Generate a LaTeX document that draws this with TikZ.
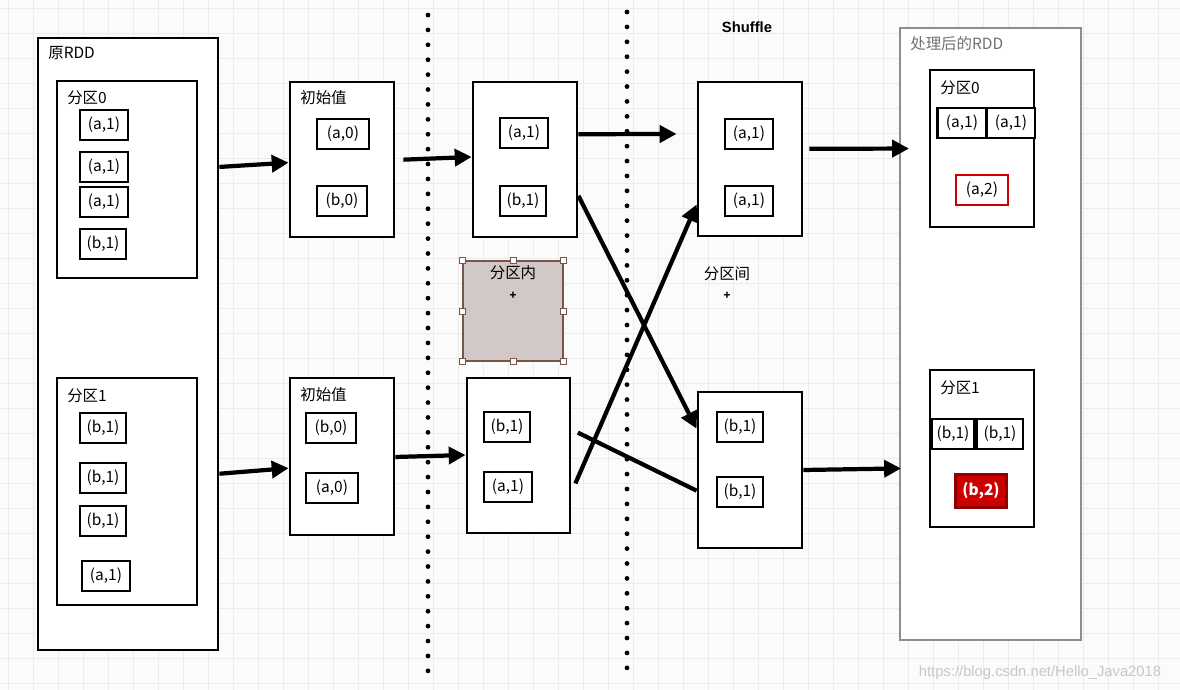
\documentclass[tikz,border=0pt]{standalone}
\usepackage{fontspec}
\setmainfont{Noto Sans CJK SC}
\newfontfamily\wmfont{Liberation Sans}
\usetikzlibrary{arrows.meta,calc,fit}

\definecolor{gridgray}{RGB}{236,236,236}
\definecolor{paper}{RGB}{251,251,251}
\definecolor{rddred}{RGB}{204,0,0}
\definecolor{taupe}{RGB}{210,201,199}
\definecolor{taupeline}{RGB}{120,85,75}
\definecolor{framegray}{RGB}{140,140,150}

\begin{document}
\begin{tikzpicture}[
    x=0.025cm, y=-0.025cm,
    every node/.style={font=\fontsize{11}{13}\selectfont},
    box/.style={rectangle, draw, line width=2pt, fill=white, inner sep=0pt},
    item/.style={rectangle, draw, line width=2pt, fill=white, minimum width=1.2cm, minimum height=0.75cm, inner sep=0pt, font=\fontsize{11}{13}\selectfont},
    title/.style={anchor=west, inner sep=0pt},
    flow/.style={-{Triangle[length=12pt, width=12pt]}, line width=3pt},
    gridline/.style={gridgray, line width=0.5pt},
    divider/.style={line width=3.4pt, line cap=round, dash pattern=on 0pt off 10.6pt},
    handle/.style={rectangle, draw=taupeline, fill=white, line width=0.5pt, minimum size=0.15cm, inner sep=0pt}
]

% Background and grid
\useasboundingbox (0,0) rectangle (1180,690);
\fill[paper] (0,0) rectangle (1180,690);
\foreach \gx in {8,33,...,1180} \draw[gridline] (\gx,0) -- (\gx,690);
\foreach \gy in {8,33,...,690} \draw[gridline] (0,\gy) -- (1180,\gy);

% Stage dividers
\draw[divider] (428,15) -- (428,680);
\draw[divider] (627,12) -- (627,680);

\node[font=\wmfont\bfseries\fontsize{10.5}{12}\selectfont] (shuffle) at (747,27) {Shuffle};

% Source RDD
\node[box, fit={(38,38) (218,650)}] (rdd) {};
\node[title] (rddlbl) at (48,53) {原RDD};

\node[box, fit={(57,81) (197,278)}] (src0) {};
\node[title] (src0lbl) at (67,98) {分区0};
\node[item] (s0a) at (104,125) {(a,1)};
\node[item] (s0b) at (104,167) {(a,1)};
\node[item] (s0c) at (104,202) {(a,1)};
\node[item, minimum width=1.15cm] (s0d) at (103,244) {(b,1)};

\node[box, fit={(57,378) (197,605)}] (src1) {};
\node[title] (src1lbl) at (67,396) {分区1};
\node[item, minimum width=1.15cm] (s1a) at (103,428) {(b,1)};
\node[item, minimum width=1.15cm] (s1b) at (103,478) {(b,1)};
\node[item, minimum width=1.15cm] (s1c) at (103,521) {(b,1)};
\node[item] (s1d) at (106,576) {(a,1)};

% Initial values
\node[box, fit={(290,82) (394,237)}] (init0) {};
\node[title] (init0lbl) at (300,98) {初始值};
\node[item, minimum width=1.3cm] (i0a) at (343,134) {(a,0)};
\node[item, minimum width=1.25cm] (i0b) at (342,201) {(b,0)};

\node[box, fit={(290,378) (394,535)}] (init1) {};
\node[title] (init1lbl) at (300,395) {初始值};
\node[item, minimum width=1.25cm] (i1a) at (331,428) {(b,0)};
\node[item, minimum width=1.3cm] (i1b) at (332,488) {(a,0)};

% Within-partition result
\node[box, fit={(473,82) (577,237)}] (agg0) {};
\node[item] (g0a) at (524,133) {(a,1)};
\node[item, minimum width=1.15cm] (g0b) at (523,201) {(b,1)};

\node[box, fit={(467,378) (570,533)}] (agg1) {};
\node[item, minimum width=1.15cm] (g1a) at (507,427) {(b,1)};
\node[item] (g1b) at (508,487) {(a,1)};

\node[fit={(463,261) (563,361)}, fill=taupe, draw=taupeline, line width=0.8pt, inner sep=0pt] (inner) {};
\foreach \a in {north west,north,north east,east,south east,south,south west,west}
    \node[handle] at (inner.\a) {};
\node (innerlbl) at (513,273) {分区内};
\node[font=\footnotesize\bfseries] (innerplus) at (513,296) {+};

% After shuffle
\node[box, fit={(698,82) (802,236)}] (sh0) {};
\node[item] (h0a) at (749,134) {(a,1)};
\node[item] (h0b) at (749,201) {(a,1)};

\node[box, fit={(698,392) (802,548)}] (sh1) {};
\node[item, minimum width=1.15cm] (h1a) at (740,427) {(b,1)};
\node[item, minimum width=1.15cm] (h1b) at (740,492) {(b,1)};

\node (crosslbl) at (727,274) {分区间};
\node[font=\footnotesize\bfseries] (crossplus) at (727,296) {+};

% Result RDD
\node[fit={(900,28) (1081,640)}, draw=framegray, line width=1.4pt, fill=white, inner sep=0pt] (res) {};
\node[title, text=framegray!80!black] (reslbl) at (910,44) {处理后的RDD};

\node[box, fit={(930,70) (1034,227)}] (res0) {};
\node[title] (res0lbl) at (940,88) {分区0};
\node[item, minimum width=1.22cm] (r0a) at (962,123) {(a,1)};
\node[item, minimum width=1.2cm] (r0b) at (1011,123) {(a,1)};
\node[item, draw=rddred, minimum width=1.3cm] (r0c) at (982,190) {(a,2)};

\node[box, fit={(930,370) (1034,527)}] (res1) {};
\node[title] (res1lbl) at (940,388) {分区1};
\node[item, minimum width=1.08cm] (r1a) at (953,434) {(b,1)};
\node[item, minimum width=1.15cm] (r1b) at (1000,434) {(b,1)};
\node[item, fill=rddred, draw=rddred!70!black, text=white, minimum width=1.28cm, minimum height=0.82cm, font=\fontsize{11}{13}\selectfont\bfseries] (r1c) at (981,491) {(b,2)};

% Data flows
\draw[flow] ($(rdd.north east)!0.212!(rdd.south east)$) -- ($(init0.north west)!0.52!(init0.south west)$);
\draw[flow] ($(rdd.north east)!0.711!(rdd.south east)$) -- ($(init1.north west)!0.573!(init1.south west)$);

\draw[flow, shorten <=0.2cm] ($(init0.north east)!0.503!(init0.south east)$) -- ($(agg0.north west)!0.484!(agg0.south west)$);
\draw[flow] ($(init1.north east)!0.503!(init1.south east)$) -- ($(agg1.north west)!0.497!(agg1.south west)$);

\draw[flow, shorten >=0.5cm] ($(agg0.north east)!0.34!(agg0.south east)$) -- ($(sh0.north west)!0.34!(sh0.south west)$);
\draw[flow] ($(agg0.north east)!0.73!(agg0.south east)$) -- ($(sh1.north west)!0.24!(sh1.south west)$);
\draw[flow, shorten <=0.25cm] ($(agg1.north east)!0.735!(agg1.south east)$) -- ($(sh0.north west)!0.79!(sh0.south west)$);
\draw[line width=3pt, shorten <=0.18cm] ($(agg1.north east)!0.335!(agg1.south east)$) -- ($(sh1.north west)!0.63!(sh1.south west)$);

\draw[flow, shorten <=0.15cm, shorten >=-0.25cm] ($(sh0.north east)!0.435!(sh0.south east)$) -- ($(res.north west)!0.198!(res.south west)$);
\draw[flow, shorten >=-0.05cm] ($(sh1.north east)!0.5!(sh1.south east)$) -- ($(res.north west)!0.719!(res.south west)$);

% Watermark
\node[text=black!22, font=\wmfont\fontsize{10.5}{12}\selectfont] (mark) at (1040,673) {https://blog.csdn.net/Hello\_Java2018};

\end{tikzpicture}
\end{document}
